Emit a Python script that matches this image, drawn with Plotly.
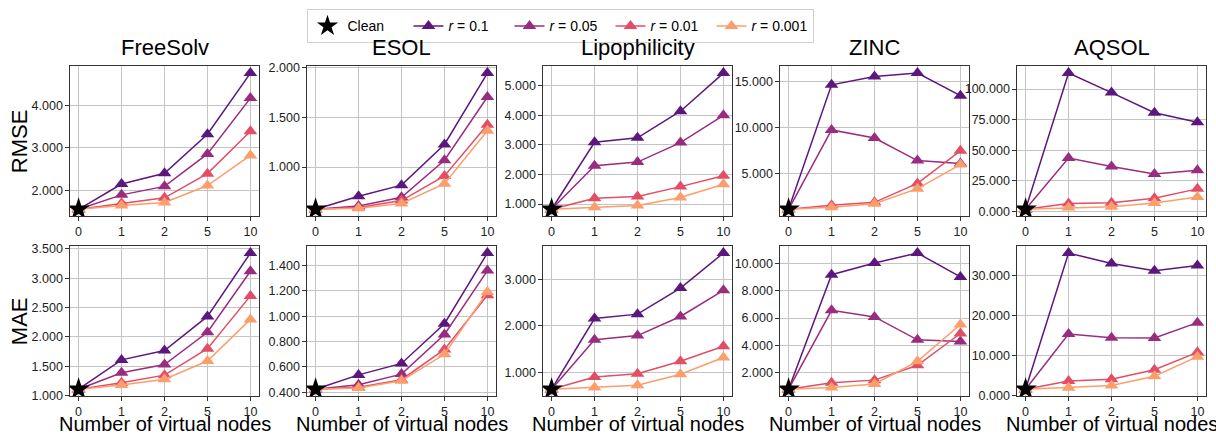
import plotly.graph_objects as go

# ---------------- data ----------------
nodes = ["0", "1", "2", "5", "10"]
datasets = ["FreeSolv", "ESOL", "Lipophilicity", "ZINC", "AQSOL"]
ratio_labels = ["0.1", "0.05", "0.01", "0.001"]
metrics = ["RMSE", "MAE"]

# clean (no virtual node) value per dataset
clean_rmse = [1.55, 0.575, 0.824, 1.18, 1.85]
clean_mae = [1.11, 0.425, 0.64, 0.806, 1.65]

# values at 1, 2, 5, 10 virtual nodes; rows: r = 0.1, 0.05, 0.01, 0.001
freesolv_rmse = [[2.145, 2.40, 3.32, 4.76],
                 [1.89, 2.09, 2.855, 4.17],
                 [1.69, 1.82, 2.39, 3.39],
                 [1.64, 1.71, 2.11, 2.82]]
esol_rmse = [[0.706, 0.818, 1.228, 1.947],
             [0.607, 0.696, 1.069, 1.706],
             [0.594, 0.663, 0.911, 1.426],
             [0.585, 0.634, 0.832, 1.366]]
lipo_rmse = [[3.09, 3.24, 4.14, 5.43],
             [2.30, 2.42, 3.08, 4.00],
             [1.20, 1.26, 1.59, 1.96],
             [0.89, 0.95, 1.22, 1.67]]
zinc_rmse = [[14.65, 15.56, 15.92, 13.48],
             [9.77, 8.89, 6.45, 6.13],
             [1.61, 1.93, 3.98, 7.51],
             [1.40, 1.78, 3.41, 6.02]]
aqsol_rmse = [[113.0, 97.1, 80.7, 72.8],
              [43.65, 36.8, 30.7, 33.6],
              [6.6, 7.1, 10.8, 18.5],
              [3.2, 4.0, 6.9, 11.9]]

freesolv_mae = [[1.61, 1.77, 2.35, 3.43],
                [1.39, 1.53, 2.08, 3.12],
                [1.22, 1.35, 1.80, 2.70],
                [1.18, 1.28, 1.59, 2.30]]
esol_mae = [[0.538, 0.628, 0.941, 1.497],
            [0.46, 0.544, 0.856, 1.359],
            [0.44, 0.50, 0.738, 1.165],
            [0.435, 0.492, 0.70, 1.19]]
lipo_mae = [[2.155, 2.25, 2.81, 3.56],
            [1.70, 1.79, 2.20, 2.76],
            [0.90, 0.97, 1.24, 1.56],
            [0.676, 0.725, 0.96, 1.32]]
zinc_mae = [[9.16, 10.02, 10.74, 9.0],
            [6.56, 6.08, 4.41, 4.29],
            [1.28, 1.47, 2.55, 4.87],
            [0.93, 1.19, 2.84, 5.53]]
aqsol_mae = [[35.7, 33.1, 31.3, 32.6],
             [15.45, 14.55, 14.47, 18.3],
             [3.68, 4.17, 6.54, 10.87],
             [2.04, 2.6, 4.9, 9.8]]

rmse_tables = [freesolv_rmse, esol_rmse, lipo_rmse, zinc_rmse, aqsol_rmse]
mae_tables = [freesolv_mae, esol_mae, lipo_mae, zinc_mae, aqsol_mae]
rmse_dtick = [1, 0.5, 1, 5, 25]
mae_dtick = [0.5, 0.2, 1, 2, 10]

# ---------------- style ----------------
colors = ["#5c177f", "#9a2c80", "#e24e66", "#fc9e6b"]
FONT = "Liberation Sans, Arial, Helvetica, sans-serif"
W, H = 1216, 440
col_left = [70, 307, 543, 780, 1017]
col_w = 189
row_top = [63, 248]
row_h = 154

fig = go.Figure()
annotations = []

for r, (metric, tables, cleans, dticks) in enumerate(
        [("RMSE", rmse_tables, clean_rmse, rmse_dtick),
         ("MAE", mae_tables, clean_mae, mae_dtick)]):
    for c in range(5):
        idx = r * 5 + c + 1
        xa = "x" if idx == 1 else f"x{idx}"
        ya = "y" if idx == 1 else f"y{idx}"
        table = tables[c]
        clean = cleans[c]
        allv = [clean] + [v for row in table for v in row]
        lo, hi = min(allv), max(allv)
        m = 0.05 * (hi - lo)
        for k, row in enumerate(table):
            fig.add_trace(go.Scatter(
                x=nodes, y=[clean] + row, xaxis=xa, yaxis=ya,
                mode="lines+markers",
                line=dict(color=colors[k], width=1.5),
                marker=dict(symbol="triangle-up", size=12, color=colors[k]),
                name=f"<i>r</i> = {ratio_labels[k]}",
                showlegend=(idx == 1), legendrank=2 + k,
                hoverinfo="skip"))
        fig.add_trace(go.Scatter(
            x=[nodes[0]], y=[clean], xaxis=xa, yaxis=ya, mode="markers",
            marker=dict(symbol="star", size=17, color="black"),
            name="Clean", showlegend=(idx == 1),
            legendrank=1, hoverinfo="skip"))

        x0 = col_left[c] / W
        x1 = (col_left[c] + col_w) / W
        y1 = 1 - row_top[r] / H
        y0 = 1 - (row_top[r] + row_h) / H
        axis_common = dict(showline=True, mirror=True, linecolor="#333",
                           linewidth=1.2, showgrid=True, gridcolor="#c4c4c4",
                           gridwidth=1.2, ticks="outside", ticklen=3.5,
                           tickcolor="#333", zeroline=False,
                           tickfont=dict(family=FONT, size=12.5, color="#222"))
        fig.layout[f"xaxis{'' if idx == 1 else idx}"] = dict(
            axis_common, domain=[x0, x1], anchor=ya, type="category",
            categoryorder="array", categoryarray=nodes, range=[-0.2, 4.2])
        fig.layout[f"yaxis{'' if idx == 1 else idx}"] = dict(
            axis_common, domain=[y0, y1], anchor=xa,
            range=[lo - m, hi + m], dtick=dticks[c], tick0=0,
            tickformat=".3f")

        if r == 0:
            annotations.append(dict(
                text=datasets[c], xref="paper", yref="paper",
                x=(x0 + x1) / 2, y=y1 + 4 / H, xanchor="center",
                yanchor="bottom", showarrow=False,
                font=dict(family=FONT, size=22, color="black")))
        else:
            annotations.append(dict(
                text="Number of virtual nodes", xref="paper", yref="paper",
                x=(x0 + x1) / 2, y=1 - 431 / H, xanchor="center",
                yanchor="middle", showarrow=False,
                font=dict(family=FONT, size=20, color="black")))
    annotations.append(dict(
        text=metric, xref="paper", yref="paper", x=19 / W,
        y=1 - (row_top[r] + row_h / 2) / H, xanchor="center",
        yanchor="middle", textangle=-90, showarrow=False,
        font=dict(family=FONT, size=22, color="black")))

fig.update_layout(
    width=W, height=H, margin=dict(l=0, r=0, t=0, b=0),
    paper_bgcolor="white", plot_bgcolor="white",
    annotations=annotations,
    legend=dict(orientation="h", x=560 / W, y=1 - 22 / H, xanchor="center",
                yanchor="middle", bordercolor="#d0d0d0", borderwidth=1,
                font=dict(family=FONT, size=14, color="black"),
                bgcolor="white", traceorder="normal",
                entrywidth=56, entrywidthmode="pixels"),
)

fig.write_html("out.html")
